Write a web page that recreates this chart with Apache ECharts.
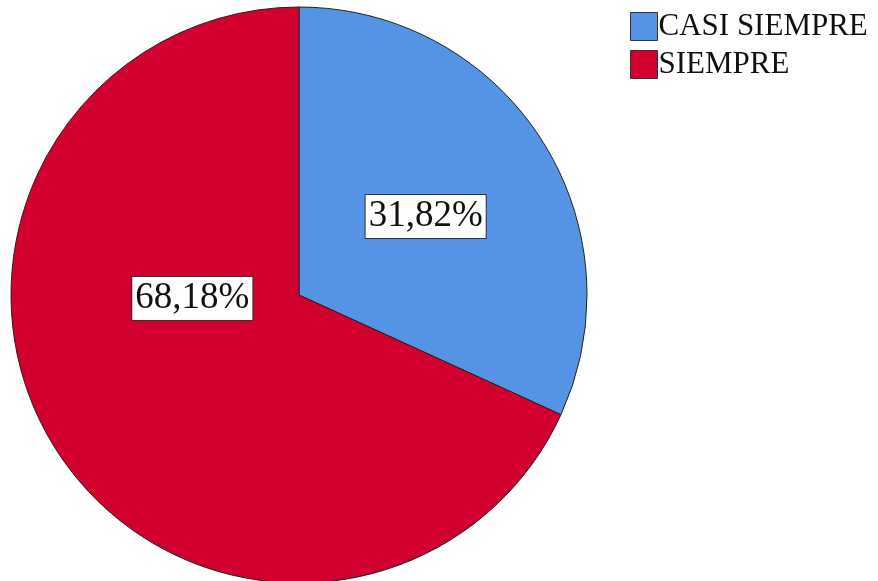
<!DOCTYPE html>
<html>
<head>
<meta charset="utf-8">
<script src="https://cdn.jsdelivr.net/npm/echarts@6/dist/echarts.min.js"></script>
<style>
  html, body { margin: 0; padding: 0; background: #fff; }
  #chart { width: 878px; height: 581px; }
</style>
</head>
<body>
<div id="chart"></div>
<script>
    var categories = ['CASI SIEMPRE', 'SIEMPRE'];
    var percentages = [31.82, 68.18];
    var colors = ['#5594E4', '#D1002F'];
    // label nudges so boxes sit where SPSS put them
    var labelOffsets = [[3, 1], [17, -76]];
    var serif = "'Liberation Serif', 'DejaVu Serif', 'Times New Roman', serif";

    var myChart = echarts.init(document.getElementById('chart'));

    var data = categories.map(function (name, i) {
        return {
            name: name,
            value: percentages[i],
            itemStyle: { color: colors[i] },
            label: { offset: labelOffsets[i] }
        };
    });

    var option = {
        backgroundColor: '#fff',
        animation: false,
        legend: {
            orient: 'vertical',
            left: 625,
            top: 6,
            itemWidth: 27,
            itemHeight: 28,
            itemGap: 7,
            icon: 'rect',
            itemStyle: { borderColor: '#333', borderWidth: 1 },
            textStyle: {
                fontFamily: serif,
                fontSize: 31,
                color: '#111',
                padding: [2, 0, 0, -4]
            },
            data: categories
        },
        series: [{
            type: 'pie',
            center: [299, 295],
            radius: [0, 288],
            startAngle: 90,
            clockwise: true,
            itemStyle: { borderColor: '#222', borderWidth: 1 },
            emphasis: { disabled: true },
            labelLine: { show: false },
            label: {
                show: true,
                position: 'inside',
                formatter: function (p) {
                    return p.value.toFixed(2).replace('.', ',') + '%';
                },
                fontFamily: serif,
                fontSize: 37,
                color: '#111',
                backgroundColor: '#fff',
                borderColor: '#333',
                borderWidth: 1,
                padding: [4, 3, 2, 3]
            },
            data: data
        }]
    };
    myChart.setOption(option);
</script>
</body>
</html>
